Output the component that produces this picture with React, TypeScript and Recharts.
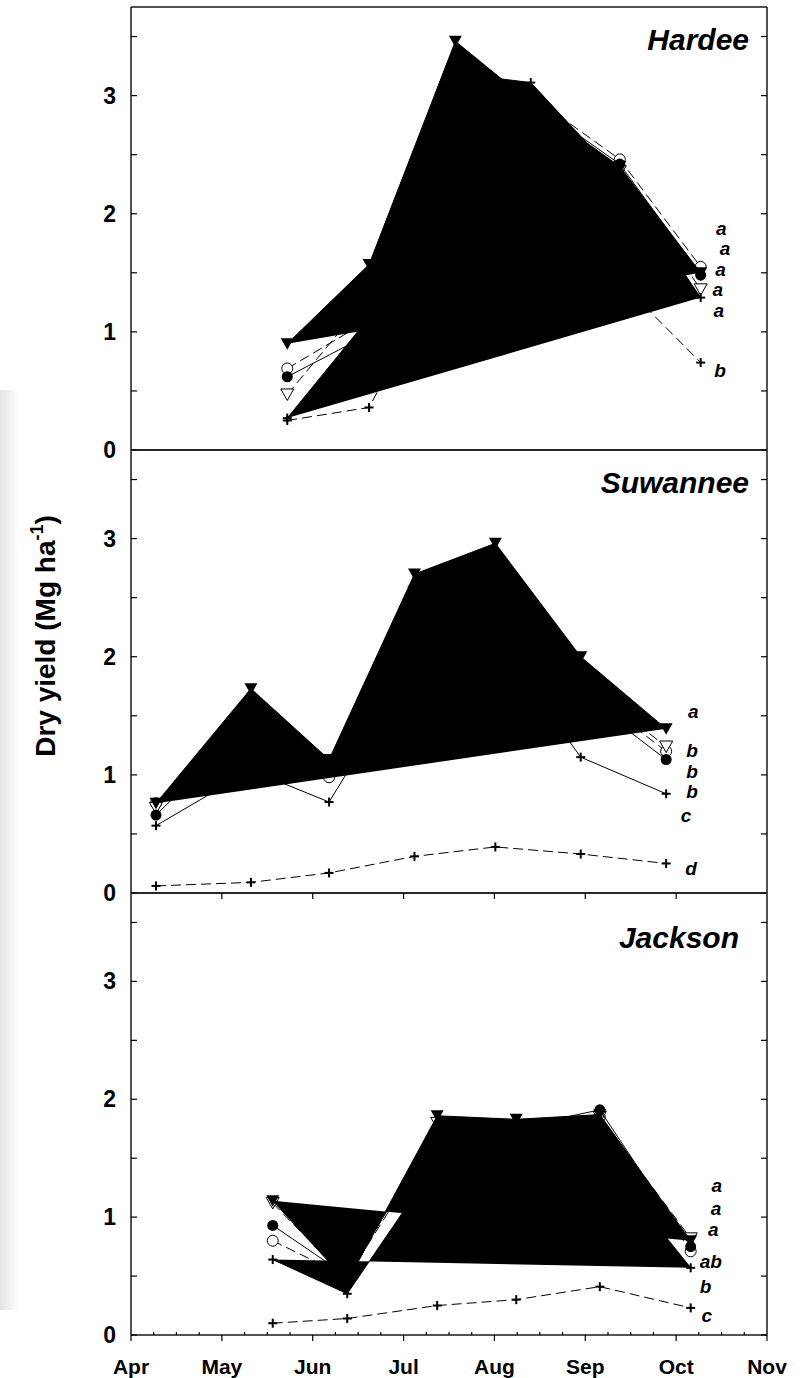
import React from 'react';
import { ScatterChart, Scatter, XAxis, YAxis } from 'recharts';

const FONT = '"Liberation Sans", Arial, Helvetica, sans-serif';

// x positions are months counted from 1 April (0 = Apr, 1 = May ...)
const monthLabels = ['Apr', 'May', 'Jun', 'Jul', 'Aug', 'Sep', 'Oct', 'Nov'];
const innerMonthTicks = [1, 2, 3, 4, 5, 6];
const quarterTicks = [
  0, 0.25, 0.5, 0.75, 1, 1.25, 1.5, 1.75, 2, 2.25, 2.5, 2.75, 3, 3.25, 3.5, 3.75,
  4, 4.25, 4.5, 4.75, 5, 5.25, 5.5, 5.75, 6, 6.25, 6.5, 6.75, 7,
];
const yTicks = [0, 0.5, 1, 1.5, 2, 2.5, 3, 3.5];

// --- Hardee ---
const hardeeDates = [1.72, 2.62, 3.57, 4.4, 5.38, 6.27];
const hardeeFilledCircle = [0.62, 0.98, 2.95, 2.95, 2.42, 1.48];
const hardeeOpenCircle = [0.69, 1.1, 3.05, 3.0, 2.46, 1.55];
const hardeeOpenTri = [0.47, 1.3, 3.0, 2.9, 2.36, 1.36];
const hardeePlusDashed = [0.25, 0.36, 1.73, 1.85, 1.43, 0.74];
const hardeePlusSolid = [0.27, 1.12, 3.19, 3.11, 2.3, 1.29];
const hardeeFilledTri = [0.9, 1.57, 3.46, 2.94, 2.4, 1.5];
const hardeeLetters = ['a', 'a', 'a', 'a', 'a', 'b'];
const hardeeLetterX = [6.44, 6.48, 6.43, 6.4, 6.41, 6.42];
const hardeeLetterY = [1.82, 1.65, 1.47, 1.3, 1.13, 0.62];

// --- Suwannee ---
const suwanneeDates = [0.275, 1.32, 2.18, 3.12, 4.01, 4.95, 5.89];
const suwanneeFilledCircle = [0.66, 1.45, 1.05, 2.4, 2.6, 1.68, 1.13];
const suwanneeOpenCircle = [0.76, 1.5, 0.98, 2.5, 2.7, 1.75, 1.2];
const suwanneeOpenTri = [0.72, 1.55, 1.05, 2.55, 2.8, 1.8, 1.24];
const suwanneePlusSolid = [0.57, 1.04, 0.77, 1.95, 2.15, 1.15, 0.84];
const suwanneePlusDashed = [0.06, 0.09, 0.17, 0.31, 0.39, 0.33, 0.25];
const suwanneeFilledTri = [0.76, 1.73, 1.13, 2.7, 2.96, 2.0, 1.39];
const suwanneeLetters = ['a', 'b', 'b', 'b', 'c', 'd'];
const suwanneeLetterX = [6.13, 6.11, 6.11, 6.11, 6.05, 6.1];
const suwanneeLetterY = [1.48, 1.15, 0.97, 0.8, 0.6, 0.15];

// --- Jackson ---
const jacksonDates = [1.56, 2.38, 3.37, 4.24, 5.16, 6.16];
const jacksonFilledCircle = [0.93, 0.5, 1.75, 1.76, 1.91, 0.75];
const jacksonOpenCircle = [0.8, 0.49, 1.7, 1.74, 1.85, 0.71];
const jacksonOpenTri = [1.12, 0.47, 1.8, 1.78, 1.85, 0.82];
const jacksonPlusDashed = [0.1, 0.14, 0.25, 0.3, 0.41, 0.23];
const jacksonPlusSolid = [0.64, 0.35, 1.47, 1.6, 1.53, 0.57];
const jacksonFilledTri = [1.14, 0.45, 1.86, 1.83, 1.87, 0.8];
const jacksonLetters = ['a', 'a', 'a', 'ab', 'b', 'c'];
const jacksonLetterX = [6.39, 6.38, 6.35, 6.26, 6.26, 6.28];
const jacksonLetterY = [1.21, 1.02, 0.84, 0.57, 0.36, 0.11];

type Kind = 'fc' | 'oc' | 'ft' | 'ot' | 'plus';
type Series = { name: string; vals: number[]; kind: Kind; dash?: boolean; filled?: boolean };

const toPoints = (dates: number[], vals: number[]) => dates.map((x, i) => ({ x, y: vals[i] }));

const Marker = ({ cx, cy, kind }: { cx: number; cy: number; kind: Kind }) => {
  if (cx == null || cy == null) return null;
  if (kind === 'fc') return <circle cx={cx} cy={cy} r={5.5} fill="#000" />;
  if (kind === 'oc') return <circle cx={cx} cy={cy} r={5.5} fill="#fff" stroke="#000" strokeWidth={1} />;
  if (kind === 'ft' || kind === 'ot') {
    const pts = `${cx - 6.5},${cy - 5.5} ${cx + 6.5},${cy - 5.5} ${cx},${cy + 6}`;
    return kind === 'ft'
      ? <polygon points={pts} fill="#000" />
      : <polygon points={pts} fill="#fff" stroke="#000" strokeWidth={1} />;
  }
  return (
    <g stroke="#000" strokeWidth={2}>
      <line x1={cx - 4.5} x2={cx + 4.5} y1={cy} y2={cy} />
      <line x1={cx} x2={cx} y1={cy - 4.5} y2={cy + 4.5} />
    </g>
  );
};

const axisLine = { stroke: '#1a1a1a', strokeWidth: 1.5 };
const textStyle = { fontFamily: FONT, fontWeight: 'bold' as const };

const LeftTick = (p: any) => {
  const v = p.payload.value;
  return (
    <g>
      <line x1={p.x} x2={p.x + 6} y1={p.y} y2={p.y} stroke="#000" strokeWidth={1.2} />
      {Number.isInteger(v) && (
        <text x={p.x - 15} y={p.y + 8} textAnchor="end" fontSize={23} fill="#000" style={textStyle}>
          {v}
        </text>
      )}
    </g>
  );
};

const RightTick = (p: any) => (
  <line x1={p.x - 6} x2={p.x} y1={p.y} y2={p.y} stroke="#000" strokeWidth={1.2} />
);

const TopTick = (p: any) => (
  <line x1={p.x} x2={p.x} y1={p.y} y2={p.y + 6} stroke="#000" strokeWidth={1.2} />
);

const BottomTick = (p: any) => {
  const v = p.payload.value;
  const major = Number.isInteger(v);
  return (
    <g>
      <line x1={p.x} x2={p.x} y1={major ? p.y : p.y - 3} y2={major ? p.y + 6 : p.y} stroke="#000" strokeWidth={1.2} />
      {major && (
        <text x={p.x} y={p.y + 39} textAnchor="middle" fontSize={21} fill="#000" style={textStyle}>
          {monthLabels[v]}
        </text>
      )}
    </g>
  );
};

type PanelProps = {
  top: number;
  bottom: number;
  dates: number[];
  series: Series[];
  letters: string[];
  letterX: number[];
  letterY: number[];
  ticksTop?: boolean;
  xLabels?: boolean;
};

const Panel = ({ top, bottom, dates, series, letters, letterX, letterY, ticksTop, xLabels }: PanelProps) => {
  const padTop = 6;
  const padBottom = xLabels ? 44 : 16;
  const height = bottom - top + padTop + padBottom;
  const letterData = letters.map((t, i) => ({ x: letterX[i], y: letterY[i], t }));
  return (
    <div style={{ position: 'absolute', left: 0, top: top - padTop }}>
      <ScatterChart width={804} height={height} margin={{ top: padTop - 1, right: 36, bottom: padBottom - 1, left: 0 }}>
        <XAxis
          xAxisId="b" type="number" dataKey="x" domain={[0, 7]} allowDataOverflow
          ticks={quarterTicks} interval={0} height={1} tickSize={0} tickMargin={0}
          axisLine={axisLine} tickLine={false} tick={xLabels ? BottomTick : false}
        />
        <XAxis
          xAxisId="t" orientation="top" type="number" dataKey="x" domain={[0, 7]} allowDataOverflow
          ticks={innerMonthTicks} interval={0} height={1} tickSize={0} tickMargin={0}
          axisLine={axisLine} tickLine={false} tick={ticksTop ? TopTick : false}
        />
        <YAxis
          yAxisId="l" type="number" dataKey="y" domain={[0, 3.75]} allowDataOverflow
          ticks={yTicks} interval={0} width={131} tickSize={0} tickMargin={0}
          axisLine={axisLine} tickLine={false} tick={LeftTick}
        />
        <YAxis
          yAxisId="r" orientation="right" type="number" dataKey="y" domain={[0, 3.75]} allowDataOverflow
          ticks={yTicks} interval={0} width={1} tickSize={0} tickMargin={0}
          axisLine={axisLine} tickLine={false} tick={RightTick}
        />
        {series.map((s) => (
          <Scatter
            key={s.name}
            name={s.name}
            xAxisId="b"
            yAxisId="l"
            data={toPoints(dates, s.vals)}
            fill="#000"
            line={{
              stroke: '#000',
              strokeWidth: 1,
              strokeDasharray: s.dash ? '10 5' : undefined,
              fill: s.filled ? '#000' : 'none',
            }}
            shape={(p: any) => <Marker cx={p.cx} cy={p.cy} kind={s.kind} />}
            isAnimationActive={false}
          />
        ))}
        <Scatter
          name="letters"
          xAxisId="t"
          yAxisId="r"
          data={letterData}
          shape={(p: any) => (
            <text x={p.cx} y={p.cy} fontSize={19} fontStyle="italic" fill="#000" style={textStyle}>
              {p.payload.t}
            </text>
          )}
          isAnimationActive={false}
        />
      </ScatterChart>
    </div>
  );
};

const hardeeSeries: Series[] = [
  { name: 'open circle', vals: hardeeOpenCircle, kind: 'oc', dash: true },
  { name: 'open triangle', vals: hardeeOpenTri, kind: 'ot', dash: true },
  { name: 'filled circle', vals: hardeeFilledCircle, kind: 'fc' },
  { name: 'plus dashed', vals: hardeePlusDashed, kind: 'plus', dash: true },
  { name: 'plus solid', vals: hardeePlusSolid, kind: 'plus', filled: true },
  { name: 'filled triangle', vals: hardeeFilledTri, kind: 'ft', filled: true },
];

const suwanneeSeries: Series[] = [
  { name: 'open circle', vals: suwanneeOpenCircle, kind: 'oc', dash: true },
  { name: 'open triangle', vals: suwanneeOpenTri, kind: 'ot', dash: true },
  { name: 'filled circle', vals: suwanneeFilledCircle, kind: 'fc' },
  { name: 'plus dashed', vals: suwanneePlusDashed, kind: 'plus', dash: true },
  { name: 'plus solid', vals: suwanneePlusSolid, kind: 'plus' },
  { name: 'filled triangle', vals: suwanneeFilledTri, kind: 'ft', filled: true },
];

const jacksonSeries: Series[] = [
  { name: 'open circle', vals: jacksonOpenCircle, kind: 'oc', dash: true },
  { name: 'open triangle', vals: jacksonOpenTri, kind: 'ot', dash: true },
  { name: 'filled circle', vals: jacksonFilledCircle, kind: 'fc' },
  { name: 'plus dashed', vals: jacksonPlusDashed, kind: 'plus', dash: true },
  { name: 'plus solid', vals: jacksonPlusSolid, kind: 'plus', filled: true },
  { name: 'filled triangle', vals: jacksonFilledTri, kind: 'ft', filled: true },
];

export default function App() {
  return (
    <div style={{ position: 'absolute', left: 0, top: 0, width: 804, height: 1378, background: '#fff', overflow: 'hidden' }}>
      <div
        style={{
          position: 'absolute', left: 0, top: 390, width: 18, height: 920,
          background: 'linear-gradient(to right, #e4e4e4, #f3f3f3 60%, #fff)',
        }}
      />
      <Panel top={7} bottom={450} dates={hardeeDates} series={hardeeSeries}
        letters={hardeeLetters} letterX={hardeeLetterX} letterY={hardeeLetterY} />
      <Panel top={450} bottom={893} dates={suwanneeDates} series={suwanneeSeries}
        letters={suwanneeLetters} letterX={suwanneeLetterX} letterY={suwanneeLetterY} />
      <Panel top={893} bottom={1335} dates={jacksonDates} series={jacksonSeries}
        letters={jacksonLetters} letterX={jacksonLetterX} letterY={jacksonLetterY} ticksTop xLabels />
      <svg width={804} height={1378} style={{ position: 'absolute', left: 0, top: 0, pointerEvents: 'none' }}>
        <g fontFamily={FONT} fontWeight="bold" fontStyle="italic" fontSize={30} fill="#000">
          <text x={749} y={50} textAnchor="end">Hardee</text>
          <text x={749} y={493} textAnchor="end">Suwannee</text>
          <text x={739} y={948} textAnchor="end">Jackson</text>
        </g>
        <text transform="translate(55,636) rotate(-90)" textAnchor="middle" fontFamily={FONT}
          fontWeight="bold" fontSize={28} fill="#000">
          Dry yield (Mg ha<tspan dy={-12} fontSize={18}>-1</tspan><tspan dy={12}>)</tspan>
        </text>
      </svg>
    </div>
  );
}
